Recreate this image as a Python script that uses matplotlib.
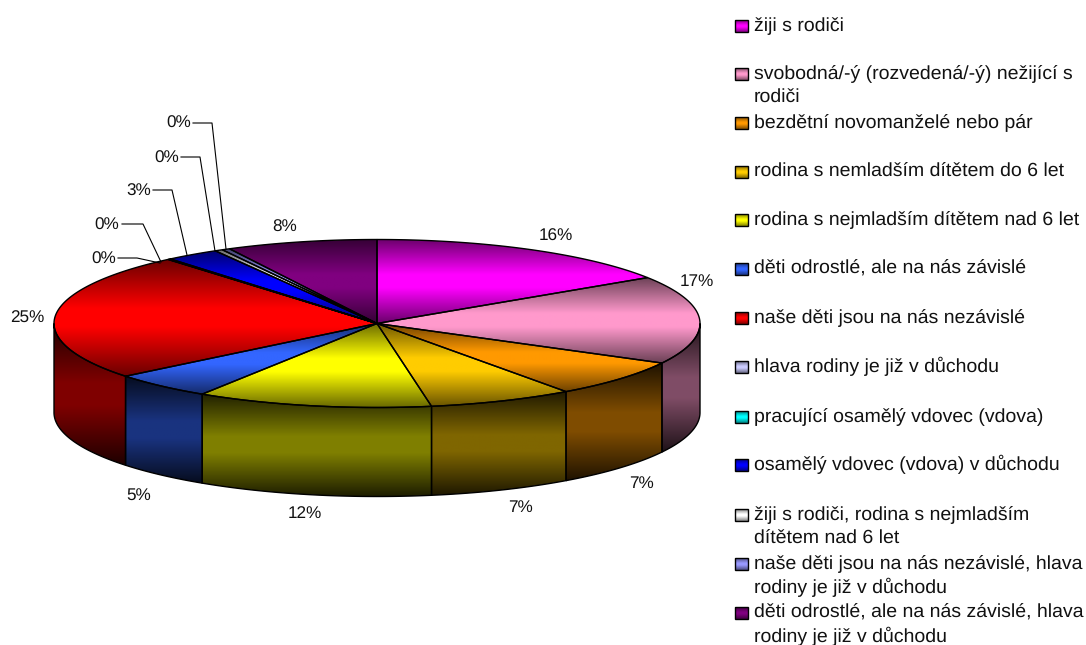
import numpy as np
from matplotlib import pyplot as plt
from matplotlib.patches import Polygon

plt.rcParams['text.hinting'] = 'no_hinting'

categories = ['žiji s rodiči',
              'svobodná/-ý (rozvedená/-ý) nežijící s\nrodiči',
              'bezdětní novomanželé nebo pár',
              'rodina s nemladším dítětem do 6 let',
              'rodina s nejmladším dítětem nad 6 let',
              'děti odrostlé, ale na nás závislé',
              'naše děti jsou na nás nezávislé',
              'hlava rodiny je již v důchodu',
              'pracující osamělý vdovec (vdova)',
              'osamělý vdovec (vdova) v důchodu',
              'žiji s rodiči, rodina s nejmladším\ndítětem nad 6 let',
              'naše děti jsou na nás nezávislé, hlava\nrodiny je již v důchodu',
              'děti odrostlé, ale na nás závislé, hlava\nrodiny je již v důchodu']
values = [15.8, 17.0, 7.25, 7.25, 11.8, 5.1, 24.6, 0.05, 0.1, 2.7, 0.4, 0.4, 7.55]
colors = ['#FF00FF', '#FF99CC', '#FF9900', '#FFCC00', '#FFFF00', '#3366FF', '#FF0000',
          '#CCCCFF', '#00FFFF', '#0000FF', '#FFFFFF', '#9999FF', '#800080']

# label centres in pixels
label_pos = [(556, 236), (697, 282), (642, 484), (521, 508), (305, 514), (139, 495), (27, 318),
             (104, 259), (107, 225), (139, 191), (167, 158), (179, 123), (285, 227)]
leaders = {7: [(118, 258), (137, 258), (160, 263)],
           8: [(122, 224), (143, 224), (161, 262)],
           9: [(153, 190), (172, 190), (187, 255)],
           10: [(181, 157), (200, 157), (215, 251)],
           11: [(193, 123), (212, 123), (226, 249)]}
legend_y = [26, 74, 123, 172, 220, 269, 318, 367, 417, 465, 515, 564, 613]

CX, CY = 377, 323.5
RX, RY = 323, 84
DEPTH = 89
FONT = 'Liberation Sans'


def ellipse_pts(t0, t1, yoff=0):
    # t in radians clockwise from 12 o'clock
    n = max(2, int(abs(t1 - t0) * 120))
    t = np.linspace(t0, t1, n)
    return np.column_stack((CX + RX * np.sin(t), CY - RY * np.cos(t) + yoff))


def gradient_fill(ax, pts, color, dark, mid):
    rgb = np.array(plt.matplotlib.colors.to_rgb(color))
    f = np.interp(np.linspace(0, 1, 128), [0, 0.42, 0.58, 1], [dark, mid, mid, dark])
    img = (f[:, None] * rgb)[:, None, :]
    y0, y1 = pts[:, 1].min(), pts[:, 1].max()
    x0, x1 = pts[:, 0].min(), pts[:, 0].max()
    if y1 - y0 < 0.5:
        y1 = y0 + 0.5
    if x1 - x0 < 0.5:
        x1 = x0 + 0.5
    poly = Polygon(pts, closed=True, facecolor='none', edgecolor='none', transform=ax.transData)
    ax.add_patch(poly)
    im = ax.imshow(img, extent=(x0, x1, y1, y0), aspect='auto', interpolation='bilinear', zorder=2)
    im.set_clip_path(poly)
    ax.add_patch(Polygon(pts, closed=True, facecolor='none', edgecolor='black', lw=1, zorder=3))


fig = plt.figure(figsize=(10.86, 6.45), dpi=100)
ax = fig.add_axes([0, 0, 1, 1])
ax.axis('off')

edges = np.cumsum([0] + values) / sum(values) * 2 * np.pi

# sides first, only the part facing the viewer
for i, col in enumerate(colors):
    t0 = max(edges[i], np.pi / 2)
    t1 = min(edges[i + 1], 3 * np.pi / 2)
    if t1 <= t0:
        continue
    top = ellipse_pts(t0, t1)
    bottom = ellipse_pts(t1, t0, DEPTH)
    gradient_fill(ax, np.vstack((top, bottom)), col, 0.12, 0.5)

# top surface
for i, col in enumerate(colors):
    arc = ellipse_pts(edges[i], edges[i + 1])
    gradient_fill(ax, np.vstack(([(CX, CY)], arc)), col, 0.42, 1.0)

for i, v in enumerate(values):
    x, y = label_pos[i]
    ax.text(x, y, '%d%%' % round(v), ha='center', va='center', family=FONT, fontsize=12.3, color='#111111')
for pts in leaders.values():
    xs, ys = zip(*pts)
    ax.plot(xs, ys, color='black', lw=0.8, zorder=4)

# legend
for cat, col, y in zip(categories, colors, legend_y):
    key = np.array([(735, y - 6), (748, y - 6), (748, y + 6), (735, y + 6)], dtype=float)
    gradient_fill(ax, key, col, 0.5, 1.0)
    for k, line in enumerate(cat.split('\n')):
        ax.text(754, y + 24 * k + 5, line, ha='left', va='baseline', family=FONT, fontsize=14, color='#111111')

ax.set_xlim(0, 1086)
ax.set_ylim(645, 0)
fig.savefig('out.png', dpi=100, facecolor='white')
